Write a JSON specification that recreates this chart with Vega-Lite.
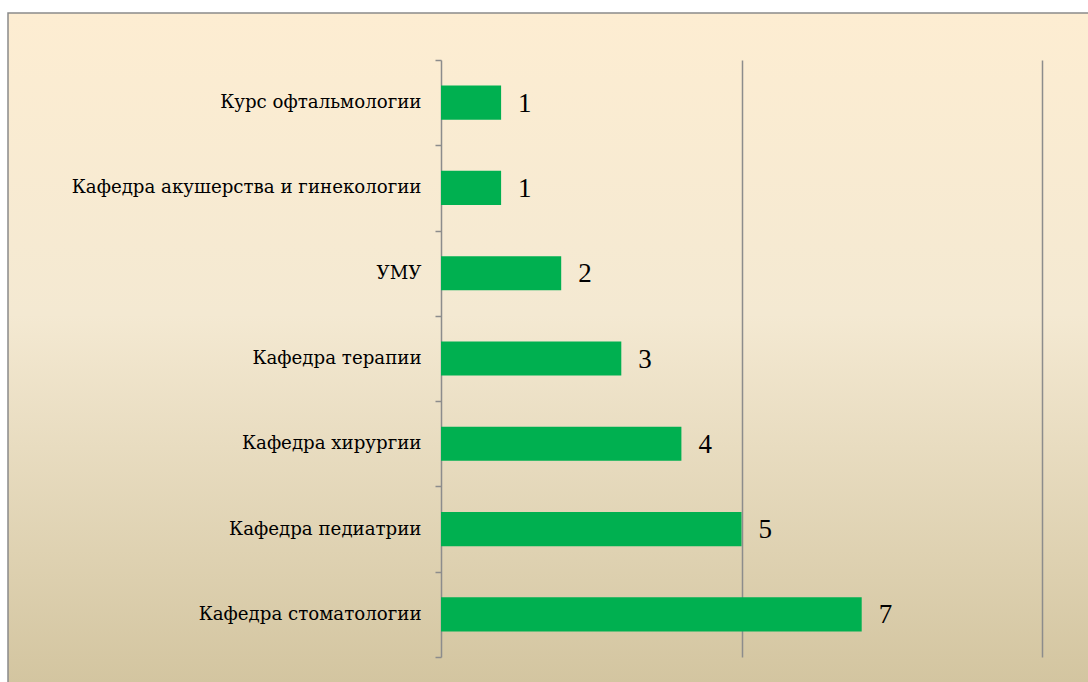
{
  "$schema": "https://vega.github.io/schema/vega-lite/v6.json",
  "width": 1081,
  "height": 670,
  "autosize": {"type": "none"},
  "padding": {"left": 8, "top": 13, "right": -1, "bottom": -1},
  "background": "#ffffff",
  "config": {
    "view": {
      "fill": {
        "gradient": "linear",
        "x1": 0, "y1": 0, "x2": 0, "y2": 1,
        "stops": [
          {"offset": 0, "color": "#FDEDD2"},
          {"offset": 0.45, "color": "#F4E9D2"},
          {"offset": 1, "color": "#D3C5A0"}
        ]
      },
      "stroke": "#8a8a8a",
      "strokeWidth": 1.5
    },
    "font": "DejaVu Serif"
  },
  "data": {
    "values": [
      {"dept": "Курс офтальмологии", "value": 1},
      {"dept": "Кафедра акушерства и гинекологии", "value": 1},
      {"dept": "УМУ", "value": 2},
      {"dept": "Кафедра терапии", "value": 3},
      {"dept": "Кафедра хирургии", "value": 4},
      {"dept": "Кафедра педиатрии", "value": 5},
      {"dept": "Кафедра стоматологии", "value": 7}
    ]
  },
  "encoding": {
    "y": {
      "field": "dept",
      "type": "nominal",
      "sort": null,
      "scale": {"range": [47, 644], "paddingInner": 0, "paddingOuter": 0},
      "axis": {
        "title": null,
        "offset": -433,
        "tickBand": "extent",
        "tickSize": 6,
        "tickColor": "#8c8c8c",
        "tickWidth": 1.5,
        "domainColor": "#8c8c8c",
        "domainWidth": 1.5,
        "labelPadding": 14,
        "labelFont": "DejaVu Serif",
        "labelFontSize": 18.2,
        "labelColor": "#000000",
        "labelLimit": 600,
        "grid": false
      }
    },
    "x": {
      "field": "value",
      "type": "quantitative",
      "scale": {"domain": [0, 10], "range": [433, 1034], "nice": false, "zero": true},
      "axis": {
        "orient": "top",
        "title": null,
        "values": [5, 10],
        "labels": false,
        "ticks": false,
        "domain": false,
        "grid": true,
        "gridColor": "#8c8c8c",
        "gridWidth": 1.5,
        "gridOpacity": 1
      }
    }
  },
  "layer": [
    {"mark": {"type": "bar", "color": "#00B050", "height": {"band": 0.4}}},
    {
      "mark": {"type": "text", "align": "left", "baseline": "middle", "dx": 17, "dy": 1, "fontSize": 27, "font": "Liberation Serif", "color": "#000000"},
      "encoding": {"text": {"field": "value", "type": "quantitative"}}
    }
  ]
}
